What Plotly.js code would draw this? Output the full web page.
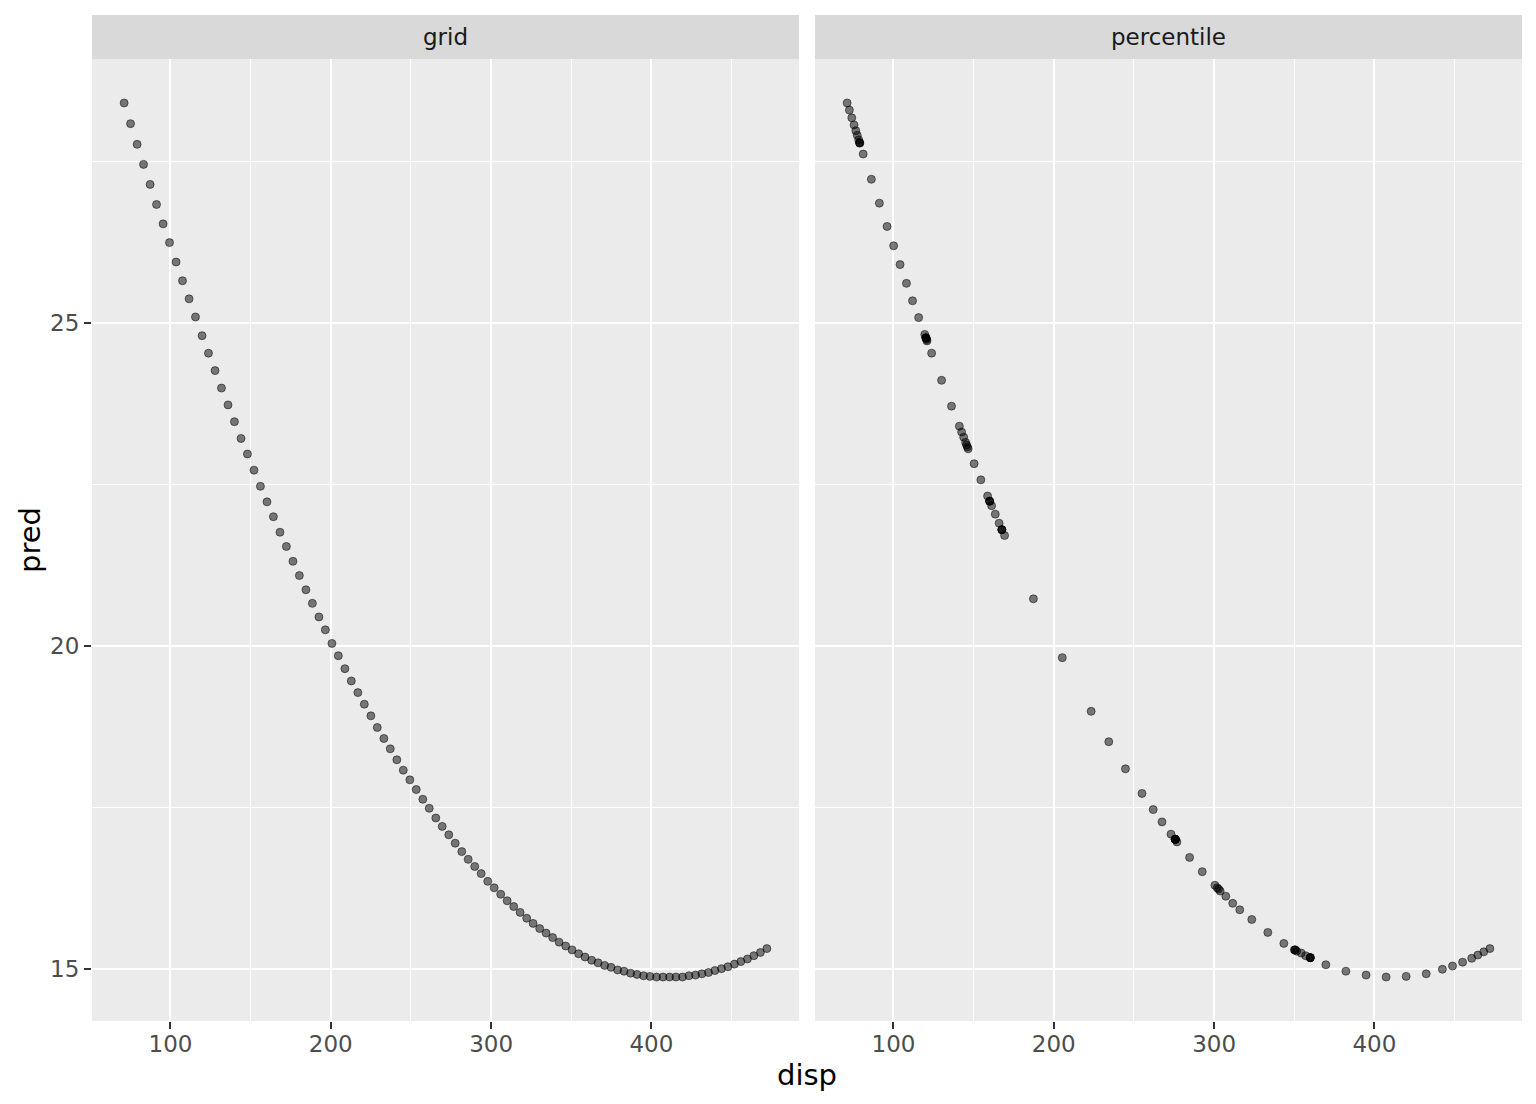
<!DOCTYPE html>
<html>
<head>
<meta charset="utf-8">
<script src="https://cdn.plot.ly/plotly-3.0.1.min.js"></script>
<style>
  html, body { margin: 0; padding: 0; background: white; }
  #plot { width: 1536px; height: 1104px; }
</style>
</head>
<body>
<div id="plot"></div>
<script>
const facetLabels = ["grid", "percentile"];

const gridDisp = [
  71.1, 75.1, 79.2, 83.2, 87.3, 91.3, 95.4, 99.4, 103.5, 107.5,
  111.6, 115.6, 119.7, 123.7, 127.8, 131.8, 135.9, 139.9, 144.0, 148.0,
  152.1, 156.1, 160.2, 164.2, 168.3, 172.3, 176.4, 180.4, 184.5, 188.5,
  192.6, 196.6, 200.7, 204.7, 208.8, 212.8, 216.9, 220.9, 225.0, 229.0,
  233.1, 237.1, 241.2, 245.2, 249.3, 253.3, 257.4, 261.4, 265.5, 269.5,
  273.6, 277.6, 281.7, 285.7, 289.8, 293.8, 297.9, 301.9, 306.0, 310.0,
  314.1, 318.1, 322.2, 326.2, 330.3, 334.3, 338.4, 342.4, 346.5, 350.5,
  354.6, 358.6, 362.7, 366.7, 370.8, 374.8, 378.9, 382.9, 387.0, 391.0,
  395.1, 399.1, 403.2, 407.2, 411.3, 415.3, 419.4, 423.4, 427.5, 431.5,
  435.6, 439.6, 443.7, 447.7, 451.8, 455.8, 459.9, 463.9, 468.0, 472.0
];
const gridPred = [
  28.40, 28.08, 27.76, 27.45, 27.14, 26.83, 26.53, 26.24, 25.94, 25.65,
  25.37, 25.09, 24.80, 24.53, 24.26, 23.99, 23.73, 23.47, 23.21, 22.97,
  22.72, 22.47, 22.23, 22.00, 21.76, 21.54, 21.31, 21.09, 20.87, 20.66,
  20.45, 20.25, 20.04, 19.85, 19.65, 19.46, 19.28, 19.10, 18.92, 18.74,
  18.57, 18.41, 18.24, 18.08, 17.93, 17.78, 17.63, 17.49, 17.34, 17.21,
  17.08, 16.95, 16.82, 16.70, 16.59, 16.48, 16.36, 16.26, 16.16, 16.06,
  15.97, 15.88, 15.79, 15.71, 15.63, 15.56, 15.49, 15.42, 15.36, 15.30,
  15.24, 15.19, 15.14, 15.10, 15.06, 15.03, 14.99, 14.97, 14.94, 14.92,
  14.90, 14.89, 14.88, 14.88, 14.88, 14.88, 14.88, 14.90, 14.91, 14.93,
  14.95, 14.98, 15.01, 15.04, 15.08, 15.12, 15.16, 15.21, 15.26, 15.32
];

const pctDisp = [
  71.1, 72.5, 74.0, 75.4, 76.5, 77.4, 78.3, 78.8, 78.9, 79.0,
  81.1, 86.2, 91.2, 96.0, 100.1, 104.1, 108.1, 111.9, 115.7, 119.5,
  120.2, 120.2, 120.3, 120.4, 120.7, 120.9, 123.8, 130.0, 136.2, 141.1,
  142.5, 143.8, 145.0, 145.6, 146.1, 146.6, 150.3, 154.5, 158.7, 160.0,
  160.0, 160.0, 161.2, 163.5, 165.9, 167.6, 167.6, 167.6, 169.3, 187.3,
  205.3, 223.3, 234.3, 244.7, 255.0, 262.0, 267.5, 273.1, 275.8, 275.8,
  275.8, 275.8, 275.8, 275.8, 276.8, 284.7, 292.6, 300.5, 301.9, 302.8,
  303.8, 307.3, 311.6, 316.0, 323.5, 333.5, 343.5, 350.1, 350.4, 350.7,
  351.5, 354.3, 357.1, 359.9, 360.0, 360.0, 360.0, 369.7, 382.2, 394.8,
  407.3, 419.8, 432.3, 442.4, 448.7, 455.0, 460.7, 464.5, 468.2, 472.0
];
const pctPred = [
  28.40, 28.29, 28.17, 28.06, 27.97, 27.90, 27.83, 27.79, 27.78, 27.78,
  27.61, 27.22, 26.85, 26.49, 26.19, 25.90, 25.61, 25.34, 25.08, 24.82,
  24.77, 24.77, 24.76, 24.76, 24.74, 24.72, 24.53, 24.11, 23.71, 23.40,
  23.31, 23.23, 23.15, 23.11, 23.08, 23.05, 22.82, 22.57, 22.32, 22.24,
  22.24, 22.24, 22.17, 22.04, 21.90, 21.80, 21.80, 21.80, 21.71, 20.73,
  19.82, 18.99, 18.52, 18.10, 17.72, 17.47, 17.28, 17.09, 17.01, 17.01,
  17.01, 17.01, 17.01, 17.01, 16.97, 16.73, 16.51, 16.30, 16.26, 16.24,
  16.21, 16.13, 16.02, 15.92, 15.77, 15.57, 15.40, 15.30, 15.30, 15.30,
  15.28, 15.25, 15.21, 15.18, 15.18, 15.18, 15.18, 15.07, 14.97, 14.91,
  14.88, 14.89, 14.93, 15.00, 15.05, 15.11, 15.17, 15.22, 15.27, 15.32
];

const FONT = "DejaVu Sans, Liberation Sans, sans-serif";
const W = 1536, H = 1104;
const M = { l: 92, r: 14, t: 59, b: 83 };
const plotW = W - M.l - M.r, plotH = H - M.t - M.b;
const gap = 16 / plotW;
const stripH = 44 / plotH;

// ggplot-style expanded ranges (5% each side)
const xRange = [51.05, 492.05];
const yRange = [14.2, 29.08];

const pointStyle = {
  size: 8,
  color: "rgba(0,0,0,0.5)",
  line: { color: "rgba(0,0,0,0.5)", width: 1 }
};

const traces = [
  { type: "scatter", mode: "markers", x: gridDisp, y: gridPred,
    xaxis: "x", yaxis: "y", marker: pointStyle, hoverinfo: "x+y" },
  { type: "scatter", mode: "markers", x: pctDisp, y: pctPred,
    xaxis: "x2", yaxis: "y", marker: pointStyle, hoverinfo: "x+y" }
];

function xAxis(domain) {
  return {
    domain: domain,
    range: xRange,
    tickmode: "linear", tick0: 0, dtick: 100,
    showgrid: true, gridcolor: "white", gridwidth: 2.1,
    minor: { tick0: 0, dtick: 50, showgrid: true, gridcolor: "white", gridwidth: 1.1 },
    zeroline: false, showline: false,
    ticks: "outside", ticklen: 7, tickwidth: 2, tickcolor: "#333333",
    ticklabelstandoff: -5,
    tickfont: { family: FONT, size: 23, color: "#4D4D4D" },
    anchor: "y", fixedrange: true
  };
}

const halfW = (1 - gap) / 2;
const domains = [[0, halfW], [1 - halfW, 1]];

const shapes = [], annotations = [];
facetLabels.forEach((label, i) => {
  const ref = i === 0 ? "x domain" : "x2 domain";
  shapes.push({
    type: "rect", xref: ref, yref: "paper",
    x0: 0, x1: 1, y0: 1, y1: 1 + stripH,
    fillcolor: "#D9D9D9", line: { width: 0 }
  });
  annotations.push({
    text: label, xref: ref, yref: "paper",
    x: 0.5, y: 1 + stripH / 2, xanchor: "center", yanchor: "middle",
    showarrow: false, font: { family: FONT, size: 23, color: "#1A1A1A" }
  });
});

annotations.push({
  text: "disp", xref: "paper", yref: "paper",
  x: 0.5, y: -54 / plotH, xanchor: "center", yanchor: "middle",
  showarrow: false, font: { family: FONT, size: 29, color: "black" }
});
annotations.push({
  text: "pred", xref: "paper", yref: "paper", textangle: -90,
  x: -62 / plotW, y: 0.5, xanchor: "center", yanchor: "middle",
  showarrow: false, font: { family: FONT, size: 29, color: "black" }
});

const layout = {
  width: W, height: H,
  margin: M,
  paper_bgcolor: "white",
  plot_bgcolor: "#EBEBEB",
  showlegend: false,
  font: { family: FONT },
  xaxis: xAxis(domains[0]),
  xaxis2: xAxis(domains[1]),
  yaxis: {
    domain: [0, 1],
    range: yRange,
    tickmode: "linear", tick0: 0, dtick: 5,
    showgrid: true, gridcolor: "white", gridwidth: 2.1,
    minor: { tick0: 0, dtick: 2.5, showgrid: true, gridcolor: "white", gridwidth: 1.1 },
    zeroline: false, showline: false,
    ticks: "outside", ticklen: 7, tickwidth: 2, tickcolor: "#333333",
    tickfont: { family: FONT, size: 23, color: "#4D4D4D" },
    anchor: "x", fixedrange: true
  },
  shapes: shapes,
  annotations: annotations
};

Plotly.newPlot("plot", traces, layout, { displayModeBar: false, responsive: false });
</script>
</body>
</html>
